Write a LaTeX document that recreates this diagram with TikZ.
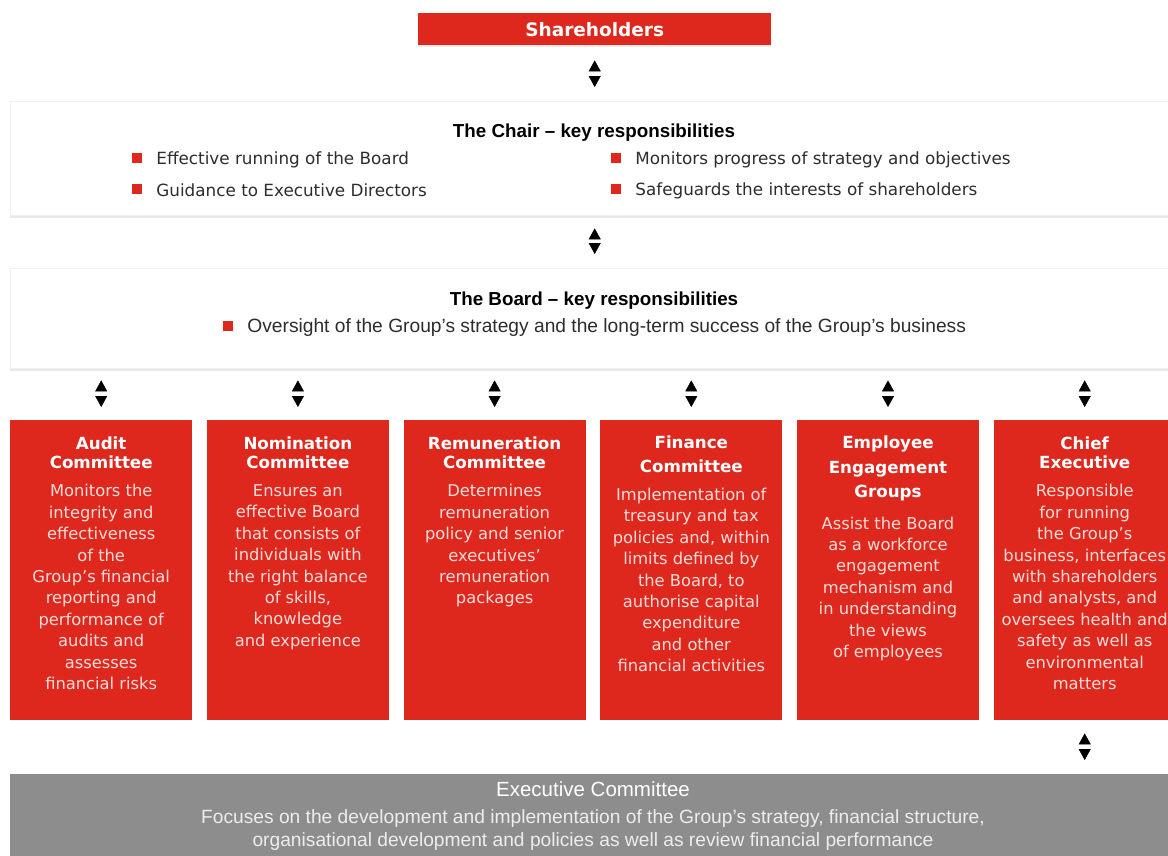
\documentclass[tikz,border=0pt]{standalone}
\usepackage{fontspec}
\setmainfont{DejaVu Sans}
\newfontfamily\narrowfont{Liberation Sans}
\usetikzlibrary{positioning, arrows.meta, shadows}

\definecolor{boardred}{RGB}{222,40,30}
\definecolor{execgrey}{RGB}{141,141,141}
\definecolor{paletext}{RGB}{250,220,216}
\definecolor{bodytext}{RGB}{45,45,45}

\tikzset{
  redbox/.style={fill=boardred, inner sep=0pt, anchor=north west},
  whitebox/.style={fill=white, draw=black!6, inner sep=0pt, anchor=north west,
    drop shadow={shadow xshift=0pt, shadow yshift=-2.5pt, opacity=0.18}},
  ctitle/.style={anchor=north, align=center, text=white, inner sep=0pt,
    font=\bfseries\fontsize{16.7}{19.5}\selectfont},
  cbody/.style={below=15pt of #1, align=center, text=paletext, inner sep=0pt,
    font=\fontsize{16.3}{21.4}\selectfont},
  keytitle/.style={inner sep=0pt, text=black, font=\narrowfont\bfseries\fontsize{18.8}{20}\selectfont},
  sqmark/.style={fill=boardred, minimum size=10pt, inner sep=0pt},
  itemtext/.style={right=14pt of #1, yshift=-1.5pt, inner sep=0pt, text=bodytext,
    font=\fontsize{16.8}{20}\selectfont},
  updown/.style={white, {Triangle[black, width=12pt, length=11pt]}-{Triangle[black, width=12pt, length=11pt]}},
}

\begin{document}
\begin{tikzpicture}[x=1pt, y=-1pt]

\useasboundingbox (0,0) rectangle (1168,855);

% Shareholders
\node[redbox, minimum width=353pt, minimum height=32pt, text=white,
  font=\bfseries\fontsize{18.5}{20}\selectfont,
  drop shadow={shadow xshift=0pt, shadow yshift=-2pt, opacity=0.15}]
  (share) at (418,13) {Shareholders};

% The Chair
\node[whitebox, minimum width=1170pt, minimum height=114pt] (chair) at (10,101) {};
\node[keytitle] (chair-t) at (594,132.5) {The Chair – key responsibilities};
\node[sqmark] (c1) at (137,158) {};
\node[itemtext=c1] {Effective running of the Board};
\node[sqmark] (c2) at (137,189) {};
\node[itemtext=c2] {Guidance to Executive Directors};
\node[sqmark] (c3) at (616,158) {};
\node[itemtext=c3] {Monitors progress of strategy and objectives};
\node[sqmark] (c4) at (616,189) {};
\node[itemtext=c4] {Safeguards the interests of shareholders};

% The Board
\node[whitebox, minimum width=1170pt, minimum height=100pt] (board) at (10,268) {};
\node[keytitle] (board-t) at (594,300.5) {The Board – key responsibilities};
\node[sqmark] (b1) at (228,326) {};
\node[itemtext=b1, font=\narrowfont\fontsize{19.2}{20}\selectfont]
  {Oversight of the Group’s strategy and the long-term success of the Group’s business};

% committees
\node[redbox, minimum width=182pt, minimum height=300pt] (audit) at (10,420) {};
\node[redbox, minimum width=182pt, minimum height=300pt] (nomin) at (206.7,420) {};
\node[redbox, minimum width=182pt, minimum height=300pt] (remun) at (403.4,420) {};
\node[redbox, minimum width=182pt, minimum height=300pt] (finance) at (600.1,420) {};
\node[redbox, minimum width=182pt, minimum height=300pt] (employee) at (796.8,420) {};
\node[redbox, minimum width=182pt, minimum height=300pt] (chief) at (993.5,420) {};

\node[ctitle] (audit-t) at ([yshift=-16.5pt]audit.north) {Audit\\Committee};
\node[cbody=audit-t] {Monitors the\\integrity and\\effectiveness\\of the\\Group’s financial\\reporting and\\performance of\\audits and\\assesses\\financial risks};

\node[ctitle] (nomin-t) at ([yshift=-16.5pt]nomin.north) {Nomination\\Committee};
\node[cbody=nomin-t] {Ensures an\\effective Board\\that consists of\\individuals with\\the right balance\\of skills,\\knowledge\\and experience};

\node[ctitle] (remun-t) at ([yshift=-16.5pt]remun.north) {Remuneration\\Committee};
\node[cbody=remun-t] {Determines\\remuneration\\policy and senior\\executives’\\remuneration\\packages};

\node[ctitle, font=\bfseries\fontsize{16.7}{23.5}\selectfont] (finance-t)
  at ([yshift=-16pt]finance.north) {Finance\\Committee};
\node[cbody=finance-t] {Implementation of\\treasury and tax\\policies and, within\\limits defined by\\the Board, to\\authorise capital\\expenditure\\and other\\financial activities};

\node[ctitle, font=\bfseries\fontsize{16.7}{24.5}\selectfont] (employee-t)
  at ([yshift=-16pt]employee.north) {Employee\\Engagement\\Groups};
\node[cbody=employee-t] {Assist the Board\\as a workforce\\engagement\\mechanism and\\in understanding\\the views\\of employees};

\node[ctitle] (chief-t) at ([yshift=-16.5pt]chief.north) {Chief\\Executive};
\node[cbody=chief-t] {Responsible\\for running\\the Group’s\\business, interfaces\\with shareholders\\and analysts, and\\oversees health and\\safety as well as\\environmental\\matters};

% Executive Committee
\node[anchor=north west, fill=execgrey, inner sep=0pt, minimum width=1170pt, minimum height=90pt]
  (exec) at (10,774) {};
\node[inner sep=0pt, text=white, font=\narrowfont\fontsize{20.5}{22}\selectfont]
  (exec-t) at (593,789.5) {Executive Committee};
\node[below=12pt of exec-t, inner sep=0pt, align=center, text=black!7,
  font=\narrowfont\fontsize{19.2}{23}\selectfont]
  {Focuses on the development and implementation of the Group’s strategy, financial structure,\\
   organisational development and policies as well as review financial performance};

% two-way arrows
\draw[updown] ([yshift=-15pt]share.south) -- ([yshift=14pt]chair.north -| share.south);
\draw[updown] ([yshift=-13pt]chair.south -| share.south) -- ([yshift=14pt]board.north -| share.south);
\draw[updown] ([yshift=-12pt]board.south -| audit.north) -- ([yshift=13pt]audit.north);
\draw[updown] ([yshift=-12pt]board.south -| nomin.north) -- ([yshift=13pt]nomin.north);
\draw[updown] ([yshift=-12pt]board.south -| remun.north) -- ([yshift=13pt]remun.north);
\draw[updown] ([yshift=-12pt]board.south -| finance.north) -- ([yshift=13pt]finance.north);
\draw[updown] ([yshift=-12pt]board.south -| employee.north) -- ([yshift=13pt]employee.north);
\draw[updown] ([yshift=-12pt]board.south -| chief.north) -- ([yshift=13pt]chief.north);
\draw[updown] ([yshift=-13pt]chief.south) -- ([yshift=14pt]exec.north -| chief.south);

\end{tikzpicture}
\end{document}
